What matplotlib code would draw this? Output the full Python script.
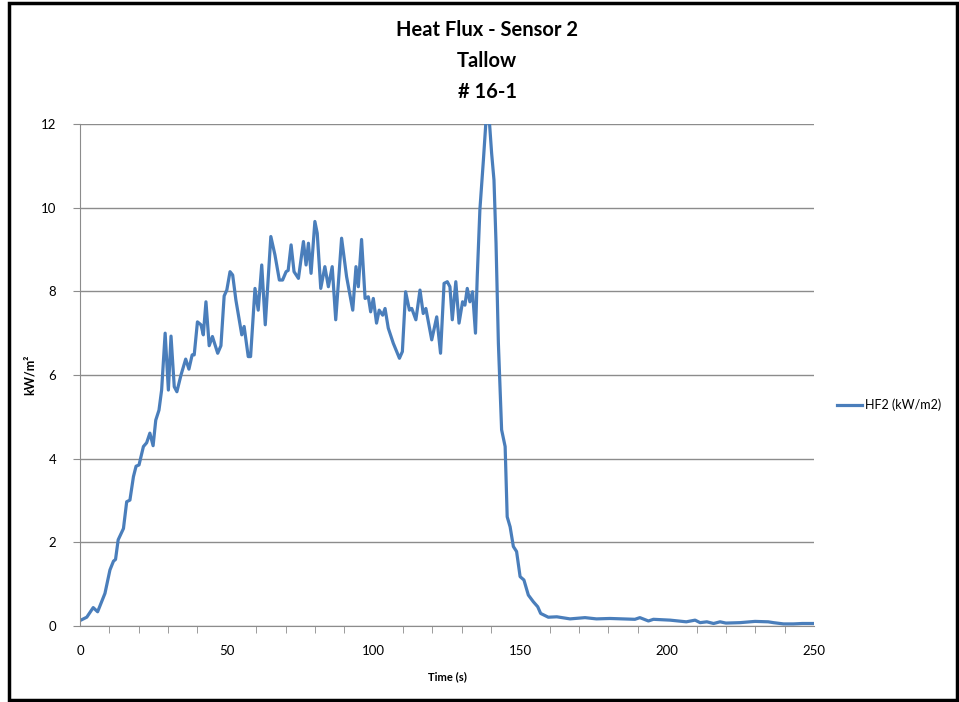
import numpy as np
import matplotlib
matplotlib.use("Agg")
import matplotlib.pyplot as plt
from matplotlib.ticker import MultipleLocator
from matplotlib.patches import Rectangle

# values
time_s = [0, 2.3, 4.5, 6, 8.5, 10.2, 11.4, 12.1, 13, 14.8, 15.9, 17, 18.2, 19.1, 20.1,
          21.6, 22.7, 23.8, 24.9, 25.8, 26.9, 27.8, 29, 30.1, 31, 32.1, 33, 34.4, 36,
          37.1, 38.2, 38.9, 40, 41.2, 42, 42.9, 44, 45.1, 46.9, 48, 49.1, 50, 51.1, 52,
          53.1, 55.1, 55.9, 57.3, 58.1, 59.6, 60.7, 61.9, 63.1, 65, 66.4, 67.9, 69,
          70.2, 70.9, 71.9, 72.9, 74.4, 76.1, 77, 77.8, 78.7, 80, 80.8, 82, 83.4, 84.6,
          85.9, 87.1, 89.1, 90.8, 92.9, 94, 94.8, 95.9, 97.1, 98.2, 99, 99.9, 101,
          101.9, 103.1, 103.9, 105, 106.7, 108.8, 109.8, 110.9, 112.2, 113, 114.4,
          115.8, 116.9, 117.8, 119.8, 121.5, 122.8, 124, 125.1, 126, 126.8, 128, 129.1,
          130.3, 131.1, 131.9, 132.8, 133.7, 134.7, 135.3, 136.2, 137.4, 138.3, 138.9,
          139.4, 140.2, 141, 141.7, 142.5, 143.1, 143.6, 144.8, 145.5, 146.5, 147.6,
          148.7, 149.9, 151.2, 152.7, 154.4, 155.9, 156.9, 159.5, 162.4, 166.9, 172,
          175.9, 180.5, 185, 189, 190.7, 193.6, 195.3, 201, 206.5, 209.5, 211.2, 213.5,
          215.8, 218, 220, 224.8, 229.9, 234.4, 236.2, 239.6, 243, 246, 250]
hf2 = [0.13, 0.21, 0.44, 0.34, 0.78, 1.34, 1.55, 1.59, 2.06, 2.33, 2.97, 3.01, 3.57, 3.82,
       3.85, 4.29, 4.38, 4.61, 4.31, 4.92, 5.16, 5.64, 7.0, 5.64, 6.93, 5.72, 5.6, 6.0,
       6.38, 6.14, 6.48, 6.48, 7.27, 7.2, 6.96, 7.75, 6.7, 6.92, 6.52, 6.7, 7.89, 8.03,
       8.47, 8.39, 7.79, 6.96, 7.16, 6.44, 6.44, 8.07, 7.55, 8.63, 7.2, 9.31, 8.87, 8.27,
       8.27, 8.47, 8.5, 9.11, 8.47, 8.31, 9.19, 8.63, 9.15, 8.43, 9.67, 9.39, 8.07, 8.59,
       8.11, 8.59, 7.32, 9.27, 8.35, 7.55, 8.59, 8.11, 9.24, 7.83, 7.87, 7.51, 7.83, 7.24,
       7.55, 7.43, 7.59, 7.12, 6.76, 6.4, 6.56, 7.99, 7.55, 7.59, 7.32, 8.03, 7.47, 7.59,
       6.84, 7.39, 6.52, 8.19, 8.23, 8.11, 7.32, 8.23, 7.24, 7.75, 7.67, 8.07, 7.75, 7.99,
       7.0, 8.35, 9.95, 11.14, 12.1, 12.4, 12.1, 11.3, 10.66, 9.15, 6.76, 5.6, 4.69, 4.29,
       2.61, 2.37, 1.9, 1.78, 1.18, 1.1, 0.74, 0.58, 0.46, 0.3, 0.21, 0.22, 0.17, 0.2,
       0.17, 0.18, 0.17, 0.16, 0.2, 0.12, 0.16, 0.14, 0.1, 0.14, 0.08, 0.1, 0.06, 0.1,
       0.07, 0.08, 0.11, 0.1, 0.08, 0.05, 0.05, 0.06, 0.06]

plt.rcParams['font.family'] = ['Lato', 'DejaVu Sans']

fig = plt.figure(figsize=(9.59, 7.02), dpi=100)
ax = fig.add_axes([80 / 959, 76 / 702, 734 / 959, 502 / 702])

ax.plot(time_s, hf2, color='#4a7ebb', lw=2.3, label='HF2 (kW/m2)', clip_on=True)

ax.set_xlim(0, 250)
ax.set_ylim(0, 12)
ax.xaxis.set_major_locator(MultipleLocator(50))
ax.xaxis.set_minor_locator(MultipleLocator(10))
ax.yaxis.set_major_locator(MultipleLocator(2))
ax.grid(axis='y', color='#8c8c8c', lw=1)
ax.set_axisbelow(True)
for s in ['top', 'right']:
    ax.spines[s].set_visible(False)
for s in ['left', 'bottom']:
    ax.spines[s].set_color('#8c8c8c')
ax.tick_params(axis='x', which='major', length=0, labelsize=9.5, pad=14)
ax.tick_params(axis='x', which='minor', length=5, color='#8c8c8c', direction='out')
ax.tick_params(axis='y', length=5, color='#8c8c8c', labelsize=9.5, pad=12)

ax.set_xlabel('Time (s)', fontsize=8, fontweight='bold', labelpad=10)
ax.set_ylabel('kW/m²', fontsize=9, fontweight='bold')
ax.yaxis.set_label_coords(-0.06, 0.5)

fig.text(487 / 959, 1 - 61 / 702, 'Heat Flux - Sensor 2\nTallow\n# 16-1', ha='center',
         va='center', fontsize=14.5, fontweight='bold', linespacing=1.7)

ax.legend(loc='center left', bbox_to_anchor=(1.025, 0.44), frameon=False, fontsize=9,
          handlelength=2.0, handletextpad=0.2, borderaxespad=0)

fig.patches.append(Rectangle((9 / 959, 2 / 702), 948 / 959, 697 / 702, transform=fig.transFigure,
                             fill=False, edgecolor='black', lw=2.5))

fig.savefig('out.png', dpi=100)
